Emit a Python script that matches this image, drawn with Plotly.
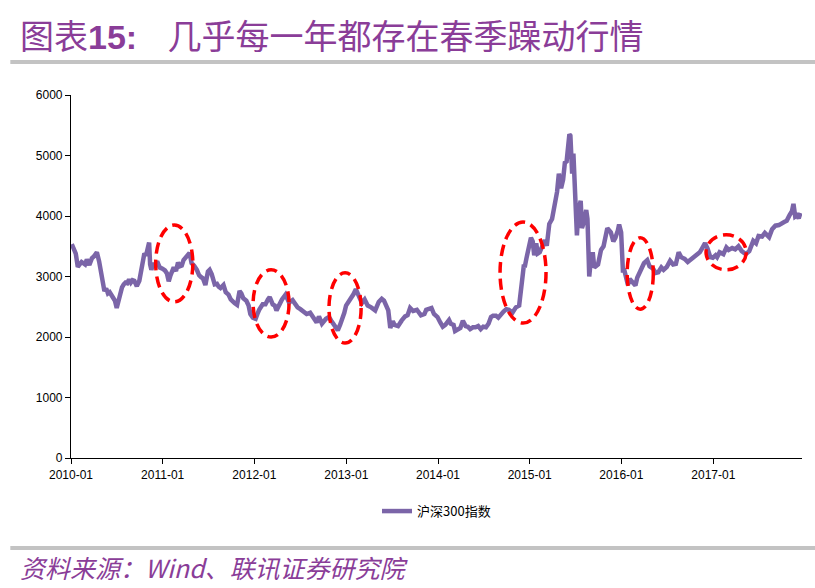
import plotly.graph_objects as go

dates = [
    "2010-01-04","2010-01-11","2010-01-20","2010-01-28","2010-02-05","2010-02-12","2010-02-26","2010-03-05","2010-03-15","2010-03-25",
    "2010-04-02","2010-04-14","2010-04-23","2010-04-30","2010-05-07","2010-05-14","2010-05-21","2010-05-28","2010-06-04","2010-06-11",
    "2010-06-18","2010-06-25","2010-07-02","2010-07-09","2010-07-16","2010-07-23","2010-07-30","2010-08-06","2010-08-13","2010-08-20",
    "2010-08-27","2010-09-03","2010-09-10","2010-09-20","2010-09-30","2010-10-11","2010-10-20","2010-10-27","2010-11-03","2010-11-08",
    "2010-11-12","2010-11-17","2010-11-24","2010-12-01","2010-12-10","2010-12-20","2010-12-31",
    "2011-01-10","2011-01-18","2011-01-25","2011-02-01","2011-02-14","2011-02-23","2011-03-03","2011-03-11","2011-03-18","2011-03-25",
    "2011-04-06","2011-04-18","2011-04-26","2011-05-06","2011-05-17","2011-05-26","2011-06-03","2011-06-10","2011-06-20","2011-06-30",
    "2011-07-07","2011-07-15","2011-07-27","2011-08-05","2011-08-12","2011-08-19","2011-08-31","2011-09-09","2011-09-20","2011-09-29",
    "2011-10-14","2011-10-24","2011-11-03","2011-11-10","2011-11-18","2011-11-30","2011-12-09","2011-12-16","2011-12-26",
    "2012-01-06","2012-01-13","2012-01-20","2012-02-03","2012-02-14","2012-02-24","2012-03-02","2012-03-14","2012-03-22","2012-03-29",
    "2012-04-11","2012-04-20","2012-05-04","2012-05-11","2012-05-18","2012-06-01","2012-06-08","2012-06-21","2012-07-02","2012-07-13",
    "2012-07-27","2012-08-10","2012-08-24","2012-09-05","2012-09-14","2012-09-26","2012-10-12","2012-10-24","2012-11-02","2012-11-16",
    "2012-11-28","2012-12-07","2012-12-14","2012-12-24","2012-12-31",
    "2013-01-11","2013-01-18","2013-01-30","2013-02-08","2013-02-22","2013-03-04","2013-03-15","2013-03-27","2013-04-10","2013-04-17",
    "2013-04-26","2013-05-10","2013-05-22","2013-05-31","2013-06-07","2013-06-17","2013-06-25","2013-07-05","2013-07-12","2013-07-26",
    "2013-08-09","2013-08-23","2013-09-02","2013-09-12","2013-09-24","2013-10-09","2013-10-25","2013-11-08","2013-11-15","2013-11-27",
    "2013-12-06","2013-12-16","2013-12-30",
    "2014-01-10","2014-01-20","2014-01-30","2014-02-14","2014-02-21","2014-03-04","2014-03-10","2014-03-20","2014-03-31","2014-04-10",
    "2014-04-21","2014-04-30","2014-05-09","2014-05-20","2014-05-30","2014-06-10","2014-06-20","2014-06-30","2014-07-11","2014-07-21",
    "2014-07-31","2014-08-08","2014-08-20","2014-08-29","2014-09-12","2014-09-19","2014-09-30","2014-10-10","2014-10-24","2014-11-07",
    "2014-11-20","2014-11-28","2014-12-05","2014-12-09","2014-12-12","2014-12-19","2014-12-31",
    "2015-01-06","2015-01-13","2015-01-19","2015-01-27","2015-02-02","2015-02-10","2015-02-17","2015-03-02","2015-03-10","2015-03-20",
    "2015-03-31","2015-04-09","2015-04-20","2015-04-27","2015-05-06","2015-05-14","2015-05-21","2015-05-28","2015-06-03","2015-06-08",
    "2015-06-12","2015-06-19","2015-06-24","2015-06-29","2015-07-03","2015-07-08","2015-07-14","2015-07-23","2015-07-28","2015-08-05",
    "2015-08-14","2015-08-19","2015-08-24","2015-08-26","2015-09-01","2015-09-09","2015-09-15","2015-09-30","2015-10-12","2015-10-22",
    "2015-11-06","2015-11-13","2015-11-20","2015-11-30","2015-12-08","2015-12-18","2015-12-23","2015-12-31",
    "2016-01-05","2016-01-07","2016-01-13","2016-01-18","2016-01-27","2016-02-03","2016-02-15","2016-02-26","2016-03-04","2016-03-15",
    "2016-03-24","2016-03-31","2016-04-13","2016-04-22","2016-05-06","2016-05-17","2016-05-27","2016-06-08","2016-06-17","2016-06-30",
    "2016-07-13","2016-07-25","2016-08-05","2016-08-16","2016-08-26","2016-09-09","2016-09-21","2016-10-10","2016-10-25","2016-11-08",
    "2016-11-18","2016-11-29","2016-12-09","2016-12-20","2016-12-30",
    "2017-01-10","2017-01-16","2017-01-26","2017-02-10","2017-02-22","2017-03-03","2017-03-17","2017-03-29","2017-04-11","2017-04-24",
    "2017-05-10","2017-05-24","2017-06-09","2017-06-20","2017-06-30","2017-07-14","2017-07-25","2017-08-11","2017-08-23","2017-09-05",
    "2017-09-19","2017-10-10","2017-10-20","2017-10-31","2017-11-10","2017-11-16","2017-11-23","2017-11-30","2017-12-07","2017-12-14",
]

csi300 = [
    3535,3480,3380,3160,3200,3240,3200,3280,3190,3300,
    3330,3400,3250,3060,2880,2760,2800,2720,2740,2700,
    2650,2600,2480,2620,2730,2820,2870,2900,2890,2950,
    2900,2940,2930,2840,2930,3200,3380,3350,3520,3560,
    3200,3110,3220,3170,3250,3150,3130,
    3100,3050,2920,3020,3150,3090,3230,3170,3180,3270,
    3320,3390,3220,3180,3110,3020,2990,2970,2860,3080,
    3110,3040,2870,2880,2830,2810,2860,2740,2700,2620,
    2560,2530,2760,2720,2640,2600,2520,2380,2320,
    2300,2380,2450,2540,2540,2620,2660,2540,2520,2440,
    2560,2620,2700,2620,2570,2610,2560,2490,2460,2430,
    2380,2400,2300,2240,2340,2220,2300,2330,2270,2190,
    2110,2200,2270,2400,2520,
    2580,2620,2710,2790,2650,2560,2620,2520,2490,2470,
    2440,2580,2630,2600,2520,2440,2150,2260,2200,2180,
    2270,2340,2360,2480,2430,2450,2360,2380,2450,2470,
    2480,2380,2330,
    2240,2170,2200,2280,2220,2200,2100,2130,2150,2270,
    2180,2170,2130,2160,2160,2180,2130,2170,2160,2220,
    2330,2350,2350,2320,2400,2420,2460,2450,2400,2490,
    2520,2750,3050,3200,3150,3300,3530,
    3640,3580,3350,3550,3380,3400,3480,3600,3510,3870,
    3950,4150,4400,4700,4460,4600,4880,4900,5150,5350,
    5330,4700,5030,4400,4150,3680,4100,4250,3800,3900,
    4100,3950,3280,3000,3250,3400,3150,3200,3440,3500,
    3800,3760,3730,3580,3640,3760,3860,3730,
    3250,3100,3100,3000,2860,2960,2890,2850,2980,3090,
    3170,3220,3270,3170,3130,3060,3070,3150,3110,3160,
    3260,3200,3210,3400,3320,3290,3240,3310,3360,3400,
    3470,3550,3460,3320,3310,
    3350,3320,3400,3370,3480,3440,3470,3450,3500,3420,
    3370,3420,3590,3550,3670,3660,3720,3650,3780,3840,
    3850,3900,3920,4010,4080,4200,3990,4010,3960,4050,
]

series_name = "沪深300指数"
year_ticks = ["2010-01-01","2011-01-01","2012-01-01","2013-01-01","2014-01-01","2015-01-01","2016-01-01","2017-01-01"]
year_labels = ["2010-01","2011-01","2012-01","2013-01","2014-01","2015-01","2016-01","2017-01"]
y_ticks = [0, 1000, 2000, 3000, 4000, 5000, 6000]

# highlighted spring rallies: (start, end, low, high)
ellipse_x0 = ["2010-12-04","2011-12-27","2012-10-24","2014-09-05","2016-01-24","2016-12-03"]
ellipse_x1 = ["2011-05-01","2012-05-18","2013-03-01","2015-03-07","2016-05-07","2017-05-12"]
ellipse_y0 = [2580, 2000, 1900, 2230, 2460, 3110]
ellipse_y1 = [3850, 3110, 3060, 3900, 3640, 3690]

line_color = "#7B65A8"
title_color = "#8A3D98"

fig = go.Figure()
fig.add_trace(go.Scatter(
    x=dates, y=csi300, mode="lines", name=series_name,
    line=dict(color=line_color, width=4.5),
))

shapes = []
for a, b, c, d in zip(ellipse_x0, ellipse_x1, ellipse_y0, ellipse_y1):
    shapes.append(dict(type="circle", xref="x", yref="y", x0=a, x1=b, y0=c, y1=d,
                       line=dict(color="#FF0000", width=3.5, dash="11px,6px")))
# title and footer rules
shapes.append(dict(type="line", xref="paper", yref="paper", x0=-0.083, x1=1.02,
                   y0=1.091, y1=1.091, line=dict(color="#C3C3C3", width=4)))
shapes.append(dict(type="line", xref="paper", yref="paper", x0=-0.083, x1=1.02,
                   y0=-0.248, y1=-0.248, line=dict(color="#C3C3C3", width=4)))

fig.update_layout(
    width=815, height=588,
    margin=dict(l=71, r=13, t=95, b=130),
    paper_bgcolor="white", plot_bgcolor="white",
    font=dict(family="Liberation Sans, Noto Sans CJK SC", size=12, color="#000000"),
    showlegend=True,
    legend=dict(orientation="h", x=0.5, xanchor="center", y=-0.105, yanchor="top",
                font=dict(family="Noto Sans CJK SC", size=13, color="#000000")),
    xaxis=dict(
        type="date", range=["2010-01-01", "2017-12-20"],
        tickvals=year_ticks, ticktext=year_labels,
        showgrid=False, zeroline=False,
        showline=True, linecolor="#000000", linewidth=1.2,
        ticks="outside", ticklen=5, tickcolor="#000000",
        tickfont=dict(family="Liberation Sans Narrow, Liberation Sans", size=12),
    ),
    yaxis=dict(
        range=[0, 6000], tickvals=y_ticks,
        showgrid=False, zeroline=False,
        showline=True, linecolor="#000000", linewidth=1.2,
        ticks="outside", ticklen=5, tickcolor="#000000",
        tickfont=dict(family="Liberation Sans Narrow, Liberation Sans", size=12),
    ),
    shapes=shapes,
)

fig.add_annotation(
    xref="paper", yref="paper", x=-0.073, y=1.168, xanchor="left", yanchor="middle",
    text="图表<b><span style='font-family:Liberation Sans'>15:</span></b>    几乎每一年都存在春季躁动行情",
    showarrow=False, font=dict(family="Noto Sans CJK SC", size=34, color=title_color),
)
fig.add_annotation(
    xref="paper", yref="paper", x=-0.073, y=-0.300, xanchor="left", yanchor="middle",
    text="<i>资料来源：Wind、联讯证券研究院</i>",
    showarrow=False, font=dict(family="Noto Sans CJK SC", size=25, color=title_color),
)

fig.write_html("out.html", config={"displayModeBar": False},
               post_script="document.body.style.margin='0';")
